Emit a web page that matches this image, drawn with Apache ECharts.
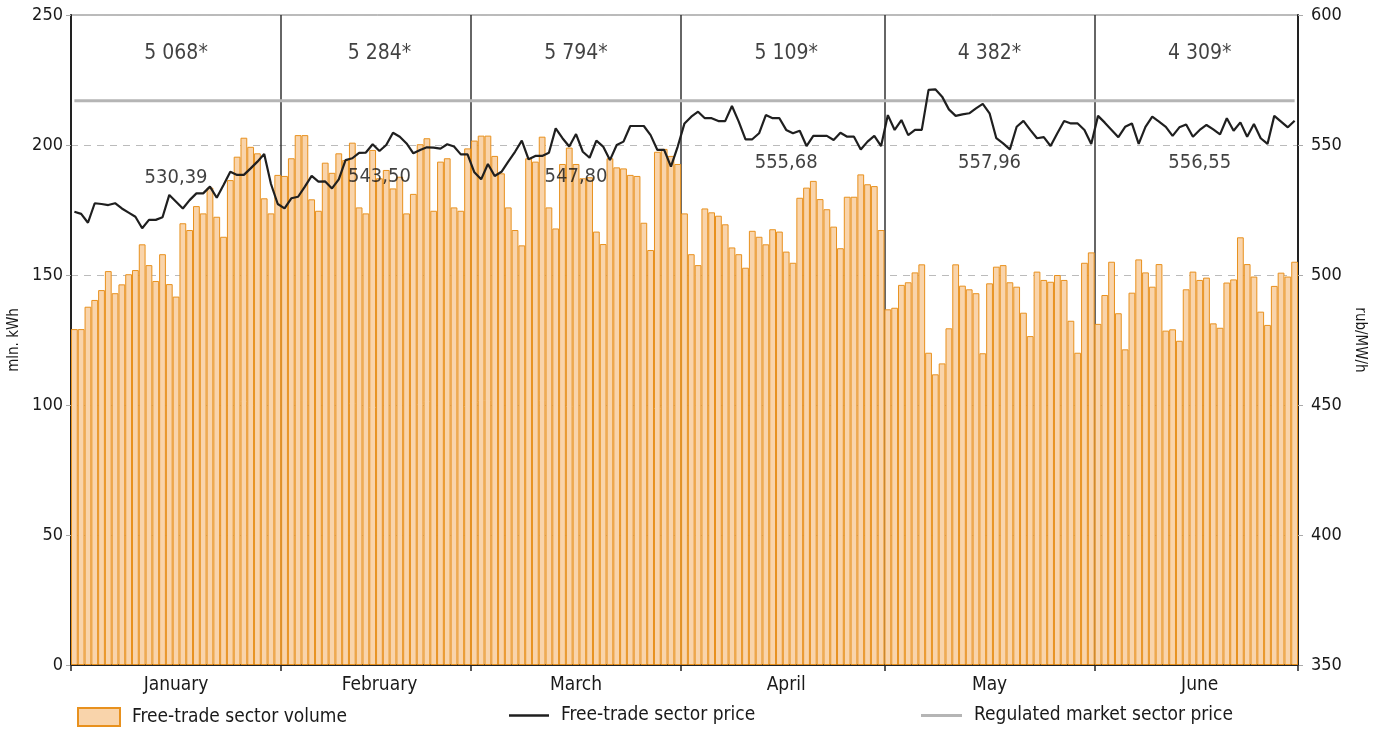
<!DOCTYPE html>
<html><head><meta charset="utf-8">
<script src="https://cdn.jsdelivr.net/npm/echarts@6/dist/echarts.min.js"></script>
<style>html,body{margin:0;padding:0;background:#fff}#c{width:1381px;height:731px}</style>
</head><body><div id="c"></div>
<script>
const months = ['January','February','March','April','May','June'];
const monthDays = [31, 28, 31, 30, 31, 30];
const monthTotals = ['5 068*','5 284*','5 794*','5 109*','4 382*','4 309*'];
const monthAvgPrice = ['530,39','543,50','547,80','555,68','557,96','556,55'];

const volJan = [129.2,129.2,137.8,140.4,144.2,151.5,143,146.4,150.3,151.9,161.8,153.8,147.7,158,146.5,141.7,169.9,167.3,176.5,173.7,183.6,172.4,164.7,186.5,195.5,202.8,199.3,196.8,179.5,173.7,188.5];
const volFeb = [188.1,194.9,203.8,203.8,179.1,174.7,193.2,189.3,196.8,194.2,200.9,176,173.7,198.1,187.2,190.4,183.3,187.8,173.7,181.2,200.3,202.6,174.7,193.6,194.9,176,174.7,198.7];
const volMar = [201.7,203.6,203.6,195.8,189.1,176,167.3,161.4,194.9,193.6,203.2,176,167.9,192.7,199,192.7,187.2,187.6,166.7,161.9,194.9,191.4,191,188.5,188.1,170.1,159.6,197.4,198.5,195.8,192.7];
const volApr = [173.7,158,153.8,175.6,174.1,172.8,169.5,160.6,158,152.8,167,164.7,161.8,167.6,166.7,159,154.7,179.7,183.6,186.2,179.2,175.3,168.6,160.3,180.1,180.1,188.7,184.9,184.2,167.3];
const volMay = [136.8,137.4,146.2,147.2,151,154.1,120.1,111.8,116,129.5,154.1,145.9,144.5,143,119.9,146.8,153.2,153.8,147.2,145.5,135.5,126.5,151.3,148.1,147.4,150,148.1,132.4,120.1,154.7,158.7];
const volJun = [131.2,142.3,155.1,135.3,121.4,143.2,156,151,145.5,154.2,128.6,129.1,124.7,144.5,151.3,148.1,149,131.4,129.7,147.1,148.3,164.5,154.2,149.4,135.9,130.8,145.8,150.9,149.4,155.1];

const priceJan = [524.3,523.5,520.1,527.6,527.3,526.9,527.6,525.6,524,522.4,518,521.2,521.2,522.2,530.8,528.2,525.6,528.8,531.4,531.4,534,529.7,534.6,539.7,538.5,538.5,541,543.6,546.5,535,527.3];
const priceFeb = [525.6,529.5,530.1,534,538.1,535.9,536,533.3,536.8,544.2,544.9,547,547.1,550.3,547.7,550,554.7,553.2,550.6,546.8,548.1,549.1,549,548.6,550.3,549.4,546.4,546.4];
const priceMar = [539.5,536.8,542.7,538.1,539.7,543.6,547.4,551.7,544.5,545.8,545.8,547,556.4,552.6,549.4,554.2,547.4,545.1,551.7,549.4,544.2,550,551.3,557.3,557.3,557.3,553.8,548.1,548.1,541.7,549.4];
const priceApr = [558.3,560.9,562.8,560.3,560.3,559.2,559.2,565,559,552.2,552.2,554.5,561.5,560.3,560.3,555.8,554.5,555.5,549.6,553.5,553.5,553.5,551.9,554.7,553.2,553.2,548.3,551.3,553.5,549.6];
const priceMay = [561.5,555.8,559.6,553.8,555.8,555.8,571.2,571.4,568.6,563.7,561.2,561.8,562.2,564.1,565.8,562.2,552.6,550.6,548.3,557,559.3,555.8,552.6,553,549.6,554.5,559.2,558.3,558.3,555.8,550.4];
const priceJun = [561.2,558.6,555.8,553,557,558.3,550.4,557,560.9,559,557,553.5,556.8,557.9,553.2,555.8,557.7,556,554.1,560.3,555.5,558.7,553.2,558.1,552.6,550.4,561.2,559,556.8,559.3];

const regulatedPrice = 567;

const volume = [].concat(volJan, volFeb, volMar, volApr, volMay, volJun);
const price = [].concat(priceJan, priceFeb, priceMar, priceApr, priceMay, priceJun);

const days = [];
const monthStart = [];
const monthMid = [];
const monthCenter = [];
months.forEach((m, k) => {
  monthStart.push(days.length);
  monthMid.push(days.length + Math.floor(monthDays[k] / 2));
  monthCenter.push(days.length + monthDays[k] / 2 - 0.5);
  for (let d = 1; d <= monthDays[k]; d++) days.push(m + ' ' + d);
});
const boundarySet = new Set(monthStart.concat([days.length]));
const midSet = new Set(monthMid);

const FONT = "'DejaVu Sans Condensed', 'Liberation Sans', sans-serif";
const totalY = 235;
const avgY = [187.3, 187.7, 187.7, 193, 193, 193];

const totalLabels = months.map((m, k) => [monthCenter[k], totalY, monthTotals[k]]);
const avgLabels = months.map((m, k) => [monthCenter[k], avgY[k], monthAvgPrice[k]]);

const legendText = {fontFamily: FONT, fontSize: 19, color: '#1a1a1a', padding: [0, 0, 0, 7]};

const chart = echarts.init(document.getElementById('c'), null, {renderer: 'canvas'});
chart.setOption({
  animation: false,
  backgroundColor: '#fff',
  textStyle: {fontFamily: FONT},
  grid: {left: 71, right: 83, top: 15, bottom: 66, containLabel: false, outerBoundsMode: 'none',
         show: true, borderColor: '#777', borderWidth: 1, backgroundColor: 'transparent'},
  legend: [
    {data: [{name: 'Free-trade sector volume', icon: 'rect', itemStyle: {borderWidth: 2}}], left: 77, top: 707, padding: 0, itemWidth: 42, itemHeight: 18,
     textStyle: legendText, selectedMode: false},
    {data: [{name: 'Free-trade sector price', icon: 'rect', itemStyle: {color: '#1f1f1f', borderWidth: 0}}], left: 509, top: 706, padding: 0, itemWidth: 40, itemHeight: 2.5,
     textStyle: legendText, selectedMode: false},
    {data: [{name: 'Regulated market sector price', icon: 'rect', itemStyle: {color: '#b5b5b5', borderWidth: 0}}], left: 921, top: 706, padding: 0, itemWidth: 41, itemHeight: 3,
     textStyle: legendText, selectedMode: false}
  ],
  xAxis: {
    type: 'category', data: days, boundaryGap: true,
    axisLine: {lineStyle: {color: '#222', width: 2}},
    axisTick: {show: true, interval: (i) => boundarySet.has(i), length: 6, lineStyle: {color: '#222', width: 1.5}},
    splitLine: {show: true, interval: (i) => boundarySet.has(i) && i !== 0, lineStyle: {color: '#333', width: 1.5}},
    axisLabel: {interval: (i) => midSet.has(i), formatter: (v) => v.split(' ')[0], fontFamily: FONT, fontSize: 19, color: '#1a1a1a', margin: 11}
  },
  yAxis: [
    {type: 'value', min: 0, max: 250, interval: 50, name: 'mln. kWh', nameLocation: 'middle', nameGap: 47, nameRotate: 90,
     nameTextStyle: {fontFamily: FONT, fontSize: 15, color: '#1a1a1a'},
     axisLine: {show: true, lineStyle: {color: '#222', width: 2}},
     axisTick: {show: true, length: 5, lineStyle: {color: '#aaa'}},
     axisLabel: {fontFamily: FONT, fontSize: 18, color: '#1a1a1a', margin: 8},
     splitLine: {show: true, lineStyle: {color: '#bbb', type: [7, 6], width: 1.2}}},
    {type: 'value', min: 350, max: 600, interval: 50, name: 'rub/MW/h', nameLocation: 'middle', nameGap: 53, nameRotate: -90,
     nameTextStyle: {fontFamily: FONT, fontSize: 15, color: '#1a1a1a'},
     axisLine: {show: true, lineStyle: {color: '#222', width: 2}},
     axisTick: {show: true, length: 5, lineStyle: {color: '#aaa'}},
     axisLabel: {fontFamily: FONT, fontSize: 18, color: '#1a1a1a', margin: 13},
     splitLine: {show: false}}
  ],
  series: [
    {name: 'Free-trade sector volume', type: 'bar', data: volume, barCategoryGap: '0%',
     itemStyle: {color: '#F9D4AB', borderColor: '#E8911E', borderWidth: 1}, z: 2},
    {name: 'Regulated market sector price', type: 'line', yAxisIndex: 1, data: days.map(() => regulatedPrice),
     symbol: 'none', lineStyle: {color: '#b5b5b5', width: 3}, itemStyle: {color: '#b5b5b5'}, z: 3},
    {name: 'Free-trade sector price', type: 'line', yAxisIndex: 1, data: price,
     symbol: 'none', lineStyle: {color: '#1f1f1f', width: 2.2}, itemStyle: {color: '#1f1f1f'}, z: 4},
    {name: 'totals', type: 'scatter', yAxisIndex: 0, data: totalLabels, symbolSize: 0, silent: true, z: 6,
     label: {show: true, position: 'inside', formatter: (p) => p.data[2], fontFamily: FONT, fontSize: 21, color: '#111'}},
    {name: 'averages', type: 'scatter', yAxisIndex: 0, data: avgLabels, symbolSize: 0, silent: true, z: 6,
     label: {show: true, position: 'inside', formatter: (p) => p.data[2], fontFamily: FONT, fontSize: 20, color: '#111'}}
  ]
});
</script>
</body></html>
